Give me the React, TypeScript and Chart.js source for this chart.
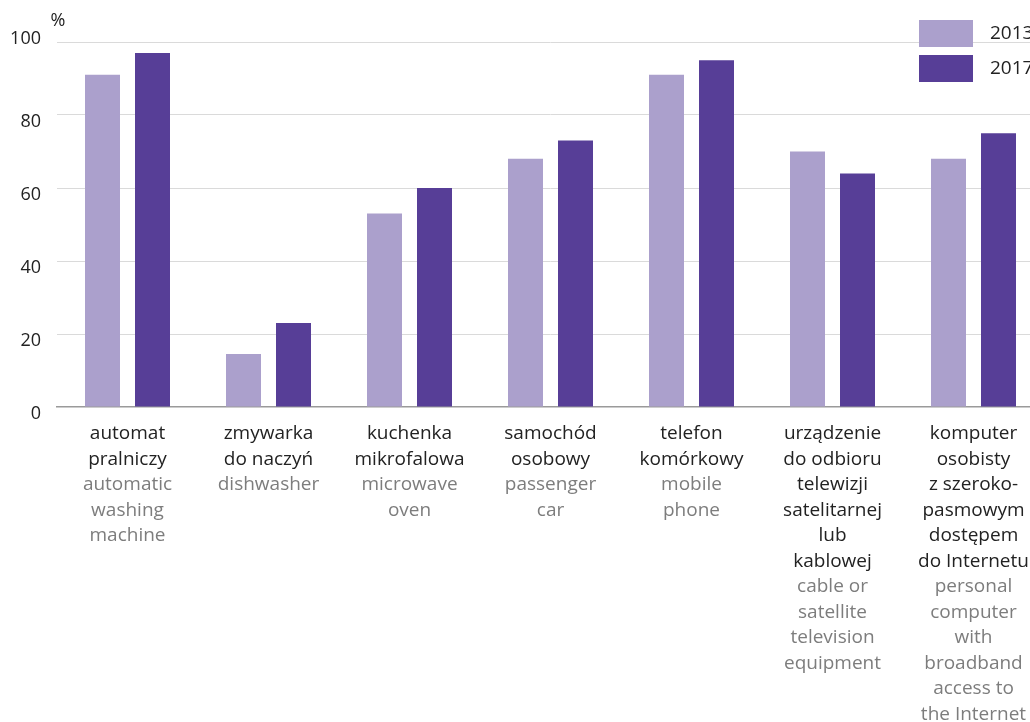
import React, { useEffect, useRef } from "react";
import { Chart, registerables } from "chart.js";

Chart.register(...registerables);

const seriesLabels = ["2013", "2017"];
const values2013 = [91, 14.5, 53, 68, 91, 70, 68];
const values2017 = [97, 23, 60, 73, 95, 64, 75];
const categoryKeys = ["washer", "dishwasher", "microwave", "car", "phone", "tv", "pc"];
const labelsPl: string[][] = [
  ["automat", "pralniczy"],
  ["zmywarka", "do naczyń"],
  ["kuchenka", "mikrofalowa"],
  ["samochód", "osobowy"],
  ["telefon", "komórkowy"],
  ["urządzenie", "do odbioru", "telewizji", "satelitarnej", "lub", "kablowej"],
  ["komputer", "osobisty", "z szeroko-", "pasmowym", "dostępem", "do Internetu"],
];
const labelsEn: string[][] = [
  ["automatic", "washing", "machine"],
  ["dishwasher"],
  ["microwave", "oven"],
  ["passenger", "car"],
  ["mobile", "phone"],
  ["cable or", "satellite", "television", "equipment"],
  ["personal", "computer", "with", "broadband", "access to", "the Internet"],
];
const unitLabel = "%";
const yMin = 0;
const yMax = 100;
const yStep = 20;

const COLORS = ["#aba0cc", "#573e97"];
const FONT = "'Open Sans', 'Noto Sans', sans-serif";
const DARK = "#222222";
const GREY = "#7d7d7d";

const W = 1060;
const H = 722;

const overlayPlugin = {
  id: "overlay",
  afterDraw(chart: any) {
    const ctx = chart.ctx as CanvasRenderingContext2D;
    const yScale = chart.scales.y;
    const xScale = chart.scales.x;
    ctx.save();
    // y tick labels
    ctx.font = `18px ${FONT}`;
    ctx.fillStyle = DARK;
    ctx.textAlign = "right";
    ctx.textBaseline = "middle";
    yScale.ticks.forEach((t: any) => {
      const py = yScale.getPixelForValue(t.value);
      const off = t.value === yScale.max ? -3 : 7;
      ctx.fillText(String(t.label), 41, py + off);
    });
    // unit label
    ctx.font = `18px ${FONT}`;
    ctx.textAlign = "center";
    ctx.fillText(unitLabel, 58, 21);
    // x labels
    const lh = 25.5;
    const y0 = yScale.getPixelForValue(0) + 27;
    ctx.font = `19px ${FONT}`;
    chart.data.labels.forEach((_: any, i: number) => {
      const px = xScale.getPixelForValue(i);
      let y = y0;
      ctx.fillStyle = DARK;
      labelsPl[i].forEach((line) => {
        ctx.fillText(line, px, y);
        y += lh;
      });
      ctx.fillStyle = GREY;
      labelsEn[i].forEach((line) => {
        ctx.fillText(line, px, y);
        y += lh;
      });
    });
    // legend
    chart.data.datasets.forEach((ds: any, i: number) => {
      const top = 20 + i * 35;
      ctx.fillStyle = ds.backgroundColor;
      ctx.fillRect(919, top, 54, 27);
      ctx.fillStyle = DARK;
      ctx.textAlign = "left";
      ctx.font = `19px ${FONT}`;
      ctx.fillText(ds.label, 990, top + 14);
    });
    ctx.restore();
  },
};

export default function App() {
  const ref = useRef<HTMLCanvasElement>(null);
  useEffect(() => {
    if (!ref.current) return;
    const chart = new Chart(ref.current, {
      type: "bar",
      data: {
        labels: categoryKeys,
        datasets: [
          { label: seriesLabels[0], data: values2013, backgroundColor: COLORS[0] },
          { label: seriesLabels[1], data: values2017, backgroundColor: COLORS[1] },
        ],
      },
      options: {
        responsive: false,
        animation: false,
        devicePixelRatio: 1,
        layout: { padding: { left: 57, right: W - 1044, top: 42, bottom: H - 407 } },
        datasets: { bar: { categoryPercentage: 100 / 141, barPercentage: 0.7 } },
        plugins: { legend: { display: false }, tooltip: { enabled: false } },
        scales: {
          x: {
            ticks: { display: false },
            grid: { display: false, drawTicks: false },
            border: { display: true, color: "#9a9a9a", width: 1.5 },
          },
          y: {
            min: yMin,
            max: yMax,
            ticks: { display: false, stepSize: yStep },
            grid: {
              drawTicks: false,
              color: (c: any) => (c.tick && c.tick.value === 0 ? "rgba(0,0,0,0)" : "#dadada"),
              lineWidth: 1,
            },
            border: { display: false },
          },
        },
      },
      plugins: [overlayPlugin],
    } as any);
    return () => chart.destroy();
  }, []);
  return (
    <div style={{ position: "fixed", left: 0, top: 0, width: 1030, height: 722, overflow: "hidden", background: "#fff" }}>
      <canvas ref={ref} width={W} height={H} style={{ width: W, height: H, display: "block" }} />
    </div>
  );
}
